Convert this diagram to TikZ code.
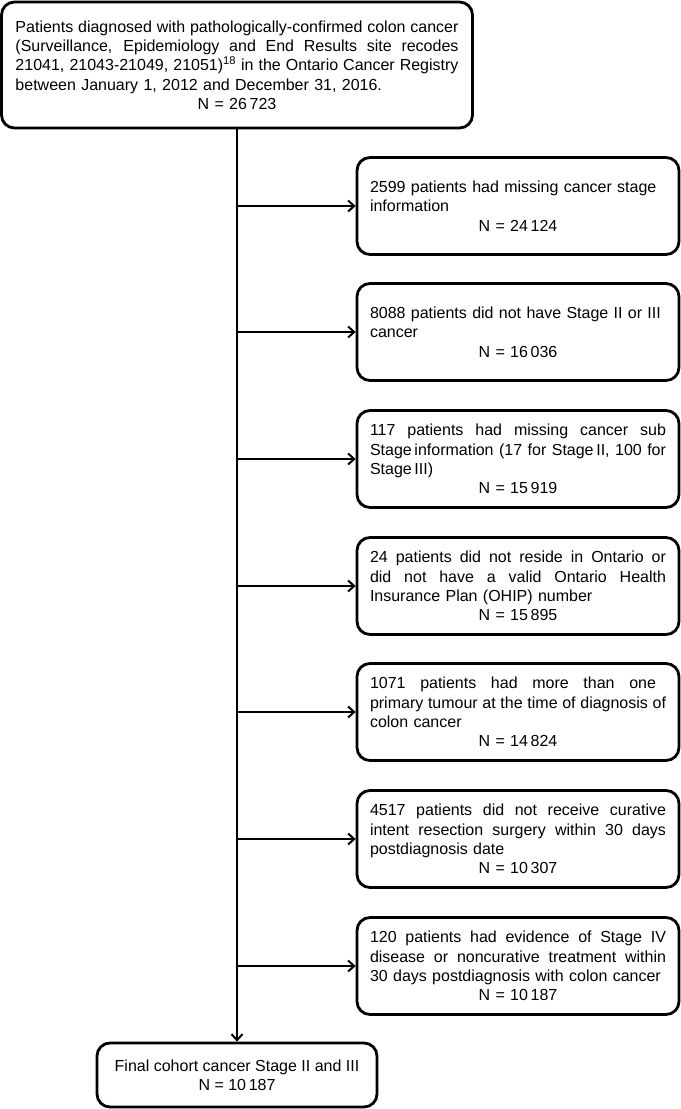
\documentclass[tikz,border=0pt]{standalone}
\usepackage{fontspec}
\setmainfont{Liberation Sans}
\usetikzlibrary{arrows.meta}
\newcommand{\jl}[1]{\makebox[\hsize][s]{\spaceskip=0pt\xspaceskip=0pt\relax #1}}
\newcommand{\jw}[2]{\makebox[#1][s]{\spaceskip=0pt\xspaceskip=0pt\relax #2}}
\newcommand{\cl}[1]{\makebox[\hsize][c]{#1}}
\begin{document}
\begin{tikzpicture}[x=1bp,y=-1bp,
  box/.style={draw, line width=2.8bp, rounded corners=13bp,
    font=\fontsize{16bp}{19.3bp}\selectfont, align=left, inner ysep=0pt},
  side/.style={box, text width=296bp, inner xsep=13bp, minimum height=97bp},
  arr/.style={line width=2bp, -{Straight Barb[length=6bp,width=11bp]}}]
\useasboundingbox (0,0) rectangle (681,1109);

\node[box, text width=443bp, inner xsep=14bp, minimum height=126bp] (top) at (237,65)
 {\jl{Patients diagnosed with pathologically-confirmed colon cancer}\\
  \jl{(Surveillance, Epidemiology and End Results site recodes}\\
  \jl{21041, 21043-21049, 21051)\textsuperscript{18} in the Ontario Cancer Registry}\\
  between January 1, 2012 and December 31, 2016.\\
  \cl{N = 26\,723}};

\node[side] (b1) at (518,206)
 {2599 patients had missing cancer stage\\
  information\\
  \cl{N = 24\,124}};

\node[side] (b2) at (518,332)
 {8088 patients did not have Stage II or III\\
  cancer\\
  \cl{N = 16\,036}};

\node[side] (b3) at (518,459)
 {\jl{117 patients had missing cancer sub}\\
  \jl{Stage\,information (17 for Stage\,II, 100 for}\\
  Stage\,III)\\
  \cl{N = 15\,919}};

\node[side] (b4) at (518,586)
 {\jl{24 patients did not reside in Ontario or}\\
  \jl{did not have a valid Ontario Health}\\
  Insurance Plan (OHIP) number\\
  \cl{N = 15\,895}};

\node[side] (b5) at (518,712)
 {\jw{286bp}{1071 patients had more than one}\\
  \jl{primary tumour at the time of diagnosis of}\\
  colon cancer\\
  \cl{N = 14\,824}};

\node[side] (b6) at (518,839)
 {\jl{4517 patients did not receive curative}\\
  \jl{intent resection surgery within 30 days}\\
  postdiagnosis date\\
  \cl{N = 10\,307}};

\node[side] (b7) at (518,966)
 {\jl{120 patients had evidence of Stage IV}\\
  \jl{disease or noncurative treatment within}\\
  30 days postdiagnosis with colon cancer\\
  \cl{N = 10\,187}};

\node[box, align=center, minimum width=280bp, minimum height=64bp] (final) at (237,1075)
 {Final cohort cancer Stage II and III\\ N = 10\,187};

\draw[arr] (top.south) -- (final.north);
\foreach \b in {b1,b2,b3,b4,b5,b6,b7}
  \draw[arr] (top.south |- \b.west) -- (\b.west);
\end{tikzpicture}
\end{document}
